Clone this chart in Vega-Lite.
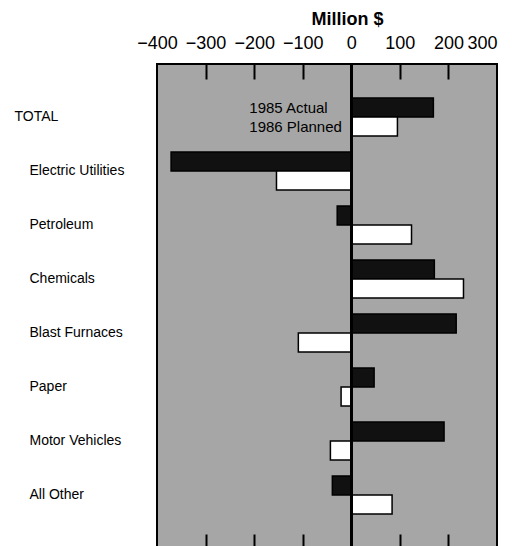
{
  "$schema": "https://vega.github.io/schema/vega-lite/v6.json",
  "width": 340,
  "height": 484,
  "padding": {"left": 14, "top": 10, "right": 5, "bottom": 0},
  "autosize": {"type": "pad"},
  "config": {
    "view": {"stroke": "black", "strokeWidth": 2, "fill": "#a6a6a6"},
    "font": "Liberation Sans"
  },
  "data": {
    "values": [
      {"sector": "TOTAL", "series": "1985 Actual", "value": 169},
      {"sector": "TOTAL", "series": "1986 Planned", "value": 95},
      {"sector": "Electric Utilities", "series": "1985 Actual", "value": -371},
      {"sector": "Electric Utilities", "series": "1986 Planned", "value": -154},
      {"sector": "Petroleum", "series": "1985 Actual", "value": -29},
      {"sector": "Petroleum", "series": "1986 Planned", "value": 124},
      {"sector": "Chemicals", "series": "1985 Actual", "value": 171},
      {"sector": "Chemicals", "series": "1986 Planned", "value": 231},
      {"sector": "Blast Furnaces", "series": "1985 Actual", "value": 216},
      {"sector": "Blast Furnaces", "series": "1986 Planned", "value": -109},
      {"sector": "Paper", "series": "1985 Actual", "value": 47},
      {"sector": "Paper", "series": "1986 Planned", "value": -21},
      {"sector": "Motor Vehicles", "series": "1985 Actual", "value": 191},
      {"sector": "Motor Vehicles", "series": "1986 Planned", "value": -43},
      {"sector": "All Other", "series": "1985 Actual", "value": -39},
      {"sector": "All Other", "series": "1986 Planned", "value": 84}
    ]
  },
  "layer": [
    {
      "mark": {"type": "bar", "stroke": "black", "strokeWidth": 1.5},
      "encoding": {
        "y": {
          "field": "sector",
          "type": "nominal",
          "sort": ["TOTAL", "Electric Utilities", "Petroleum", "Chemicals", "Blast Furnaces", "Paper", "Motor Vehicles", "All Other"],
          "scale": {"paddingInner": 0.296, "paddingOuter": 0.63},
          "axis": {
            "title": null,
            "ticks": false,
            "domain": false,
            "labelAlign": "left",
            "labelBaseline": "middle",
            "labelFontSize": 14,
            "labelColor": "black",
            "labelPadding": {"condition": {"test": "datum.value === 'TOTAL'", "value": 143}, "value": 128}
          }
        },
        "yOffset": {
          "field": "series",
          "type": "nominal",
          "sort": ["1985 Actual", "1986 Planned"],
          "scale": {"paddingInner": 0, "paddingOuter": 0}
        },
        "x": {
          "field": "value",
          "type": "quantitative",
          "scale": {"domain": [-400, 300], "nice": false},
          "axis": {
            "orient": "top",
            "values": [-400, -300, -200, -100, 0, 100, 200, 300],
            "labelOverlap": false,
            "labelBound": false,
            "labelFlush": false,
            "labelAlign": {"condition": {"test": "datum.value === 300", "value": "right"}, "value": "center"},
            "ticks": false,
            "domain": false,
            "grid": false,
            "labelFontSize": 18,
            "labelColor": "black",
            "labelPadding": 12,
            "title": "Million $",
            "titleFontSize": 18,
            "titleFontWeight": "bold",
            "titleColor": "black",
            "titlePadding": 6,
            "titleX": 190
          }
        },
        "fill": {
          "field": "series",
          "type": "nominal",
          "scale": {"domain": ["1985 Actual", "1986 Planned"], "range": ["#111111", "#ffffff"]},
          "legend": null
        }
      }
    },
    {
      "transform": [{"filter": "datum.sector === 'TOTAL'"}],
      "mark": {"type": "text", "align": "left", "baseline": "middle", "fontSize": 15, "color": "black"},
      "encoding": {
        "text": {"field": "series"},
        "x": {
          "datum": -210,
          "type": "quantitative",
          "axis": {
            "orient": "top",
            "offset": -15,
            "values": [-300, -200, -100, 100, 200],
            "ticks": true,
            "tickSize": 15,
            "tickWidth": 2,
            "tickColor": "black",
            "labels": false,
            "domain": false,
            "grid": false,
            "title": null
          }
        },
        "y": {"field": "sector", "type": "nominal", "sort": ["TOTAL", "Electric Utilities", "Petroleum", "Chemicals", "Blast Furnaces", "Paper", "Motor Vehicles", "All Other"]},
        "yOffset": {"field": "series", "type": "nominal", "sort": ["1985 Actual", "1986 Planned"]}
      }
    },
    {
      "mark": {"type": "rule", "color": "black", "strokeWidth": 2},
      "encoding": {
        "x": {
          "datum": 0,
          "type": "quantitative",
          "axis": {
            "orient": "bottom",
            "offset": -14,
            "values": [-300, -200, -100, 100, 200],
            "ticks": true,
            "tickSize": 14,
            "tickWidth": 2,
            "tickColor": "black",
            "labels": false,
            "domain": false,
            "grid": false,
            "title": null
          }
        }
      }
    }
  ],
  "resolve": {"axis": {"x": "independent"}}
}
